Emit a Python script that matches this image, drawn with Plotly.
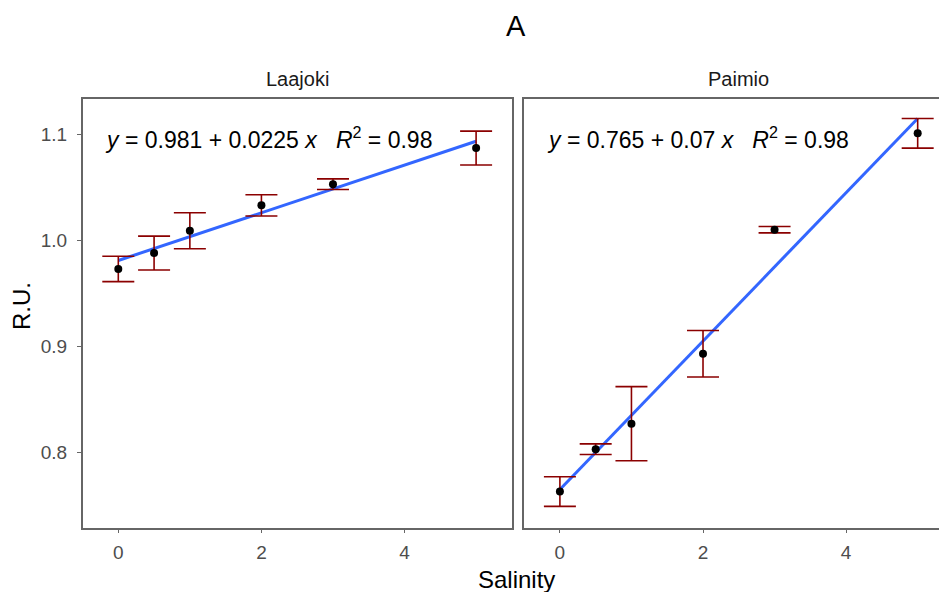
import plotly.graph_objects as go

# Salinity treatments (x) shared by both sites
salinity = [0, 0.5, 1, 2, 3, 5]

# Laajoki: mean relative units and error half-widths
laajoki_mean = [0.973, 0.988, 1.009, 1.033, 1.053, 1.087]
laajoki_err = [0.012, 0.016, 0.017, 0.010, 0.005, 0.016]

# Paimio: mean relative units and error half-widths
paimio_mean = [0.763, 0.803, 0.827, 0.893, 1.010, 1.101]
paimio_err = [0.014, 0.005, 0.035, 0.022, 0.003, 0.014]

# Fitted linear models (intercept, slope) and R^2 per site
sites = ["Laajoki", "Paimio"]
intercepts = [0.981, 0.765]
slopes = [0.0225, 0.07]
r_squared = [0.98, 0.98]

W, H = 939, 592
FONT = "Liberation Sans, Arial, sans-serif"


def px(x):
    return x / W


def py(y):
    return 1 - y / H


# panel geometry (pixels)
L_LEFT, L_RIGHT = 82.7, 511.7
R_LEFT, R_RIGHT_FULL = 524.3, 953.3
P_TOP, P_BOT = 98.5, 527.7

fig = go.Figure()

means = [laajoki_mean, paimio_mean]
errs = [laajoki_err, paimio_err]
axes = [("x", "y"), ("x2", "y2")]

for i in range(2):
    xa, ya = axes[i]
    x_fit = [min(salinity), max(salinity)]
    y_fit = [intercepts[i] + slopes[i] * v for v in x_fit]
    fig.add_trace(go.Scatter(
        x=x_fit, y=y_fit, mode="lines",
        line=dict(color="#3366FF", width=3),
        xaxis=xa, yaxis=ya, showlegend=False, hoverinfo="skip",
    ))
    fig.add_trace(go.Scatter(
        x=salinity, y=means[i], mode="markers",
        marker=dict(color="black", size=8),
        error_y=dict(type="data", array=errs[i], visible=True,
                     color="#8B0000", thickness=1.6, width=16),
        xaxis=xa, yaxis=ya, showlegend=False,
    ))

axis_line = dict(showline=True, linecolor="#666666", linewidth=1.5,
                 showgrid=False, zeroline=False)
tick_style = dict(ticks="outside", ticklen=4, tickcolor="#666666", tickwidth=1.2,
                  tickfont=dict(family=FONT, size=19, color="#4D4D4D"))

fig.update_layout(
    width=W, height=H,
    margin=dict(l=0, r=0, t=0, b=0),
    paper_bgcolor="white", plot_bgcolor="white",
    xaxis=dict(domain=[px(L_LEFT), px(L_RIGHT)], range=[-0.4975, 5.4975],
               tickvals=[0, 2, 4], mirror=True, anchor="y",
               ticklabelstandoff=3, **axis_line, **tick_style),
    xaxis2=dict(domain=[px(R_LEFT), 1.0], range=[-0.4975, 5.298],
                tickvals=[0, 2, 4], mirror=True, anchor="y2",
                ticklabelstandoff=3, **axis_line, **tick_style),
    yaxis=dict(domain=[py(P_BOT), py(P_TOP)], range=[0.7289, 1.1338],
               tickvals=[0.8, 0.9, 1.0, 1.1],
               ticktext=["0.8", "0.9", "1.0", "1.1"],
               mirror=True, anchor="x", ticklabelstandoff=6,
               **axis_line, **tick_style),
    yaxis2=dict(domain=[py(P_BOT), py(P_TOP)], matches="y",
                showticklabels=False, ticks="", mirror=False, anchor="x2",
                **axis_line),
)

annotations = []

# figure title
annotations.append(dict(text="A", x=px(515.5), y=py(26), xref="paper", yref="paper",
                        showarrow=False, xanchor="center", yanchor="middle",
                        font=dict(family=FONT, size=29, color="black")))

# facet strip labels
strip_centres = [(L_LEFT + L_RIGHT) / 2, (R_LEFT + R_RIGHT_FULL) / 2]
for name, cx in zip(sites, strip_centres):
    annotations.append(dict(text=name, x=px(cx), y=py(79), xref="paper", yref="paper",
                            showarrow=False, xanchor="center", yanchor="middle",
                            font=dict(family=FONT, size=20, color="#1A1A1A")))

# regression equations
eq_left = [103, 545]
nb = "\u00a0"
for i in range(2):
    txt = (f"<i>y</i>{nb}={nb}{intercepts[i]:g}{nb}+{nb}{slopes[i]:g}{nb}<i>x</i>"
           f"{nb*3}<i>R</i><sup>2</sup>{nb}={nb}{r_squared[i]:.2f}")
    annotations.append(dict(text=txt, x=px(eq_left[i]), y=py(138), xref="paper", yref="paper",
                            showarrow=False, xanchor="left", yanchor="middle",
                            font=dict(family=FONT, size=23, color="black")))

# axis titles
annotations.append(dict(text="Salinity", x=px(516), y=py(579), xref="paper", yref="paper",
                        showarrow=False, xanchor="center", yanchor="middle",
                        font=dict(family=FONT, size=24, color="black")))
annotations.append(dict(text="R.U.", x=px(21), y=py(306), xref="paper", yref="paper",
                        showarrow=False, xanchor="center", yanchor="middle", textangle=-90,
                        font=dict(family=FONT, size=24, color="black")))

fig.update_layout(annotations=annotations)

fig.write_html("out.html")
